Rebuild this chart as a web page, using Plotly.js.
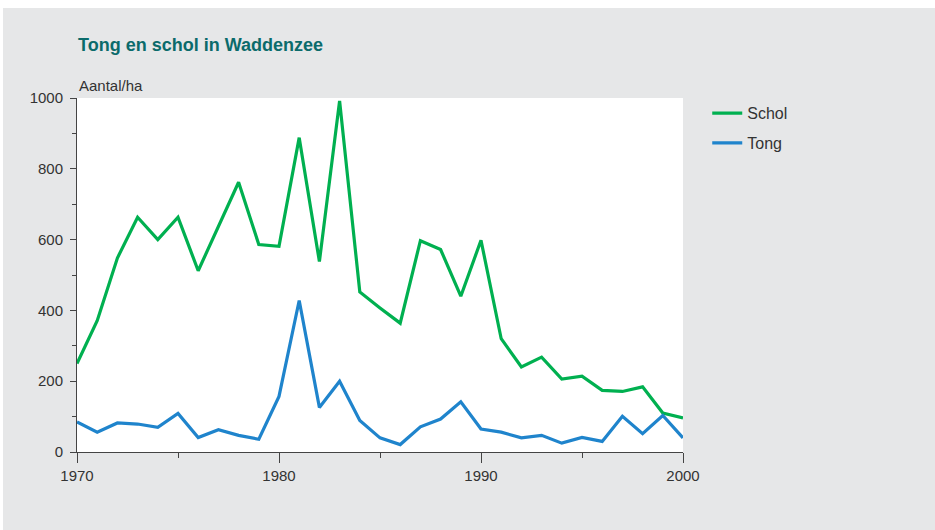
<!DOCTYPE html>
<html>
<head>
<meta charset="utf-8">
<script src="https://cdn.plot.ly/plotly-3.0.1.min.js"></script>
<style>
  html, body { margin: 0; padding: 0; background: #ffffff; }
  #chart { position: absolute; left: 3px; top: 8px; width: 932px; height: 522px; }
</style>
</head>
<body>
<div id="chart"></div>
<script>
const years = [1970,1971,1972,1973,1974,1975,1976,1977,1978,1979,1980,1981,1982,1983,1984,1985,1986,1987,1988,1989,1990,1991,1992,1993,1994,1995,1996,1997,1998,1999,2000];
const schol = [250,371,548,663,600,663,512,635,762,586,581,888,538,992,452,407,364,597,572,440,598,320,240,268,206,214,174,171,184,110,96];
const tong  = [85,56,82,79,70,109,41,63,47,36,157,428,126,200,89,40,21,71,93,142,65,56,40,47,25,41,30,101,52,103,40];
const seriesNames = ["Schol", "Tong"];
const yTickVals = [0,200,400,600,800,1000];
const xTickVals = [1970,1980,1990,2000];

const font = "Liberation Sans, Arial, sans-serif";
const traces = [
  { x: years, y: schol, name: seriesNames[0], type: "scatter", mode: "lines",
    line: { color: "#00b050", width: 3.2 }, legendgroup: "a" },
  { x: years, y: tong, name: seriesNames[1], type: "scatter", mode: "lines",
    line: { color: "#1f84cc", width: 3.2 }, legendgroup: "b" }
];

const layout = {
  width: 932, height: 522,
  paper_bgcolor: "#e6e7e8",
  plot_bgcolor: "#ffffff",
  margin: { l: 74, r: 252, t: 90, b: 78 },
  font: { family: font, size: 15, color: "#333333" },
  title: {
    text: "<b>Tong en schol in Waddenzee</b>",
    font: { family: font, size: 18, color: "#0b6b6b" },
    x: 75/932, xref: "container", xanchor: "left",
    y: 1 - 37/522, yref: "container", yanchor: "middle"
  },
  xaxis: {
    range: [1970, 2000], tickvals: xTickVals, ticktext: xTickVals.map(String),
    ticks: "outside", ticklen: 10, tickcolor: "#444", tickwidth: 1,
    showline: true, linecolor: "#444", linewidth: 1, showgrid: false, zeroline: false,
    tickfont: { family: font, size: 15, color: "#333333" },
    minor: { dtick: 5, tick0: 1970, ticks: "outside", ticklen: 5, tickcolor: "#444", showgrid: false },
    fixedrange: true
  },
  yaxis: {
    range: [0, 1000], tickvals: yTickVals, ticktext: yTickVals.map(String),
    ticks: "outside", ticklen: 6, tickcolor: "#444", tickwidth: 1,
    ticklabelstandoff: 4,
    showline: true, linecolor: "#444", linewidth: 1, showgrid: false, zeroline: false,
    tickfont: { family: font, size: 15, color: "#333333" },
    minor: { dtick: 100, tick0: 0, ticks: "outside", ticklen: 4, tickcolor: "#444", showgrid: false },
    fixedrange: true
  },
  showlegend: true,
  legend: {
    x: 1.04, xanchor: "left", y: 1.005, yanchor: "top",
    bgcolor: "rgba(0,0,0,0)", font: { family: font, size: 16, color: "#333333" },
    traceorder: "grouped", tracegroupgap: 6
  },
  annotations: [
    { text: "Aantal/ha", xref: "paper", yref: "paper", x: 0, y: 1, xanchor: "left", yanchor: "bottom",
      yshift: 2, showarrow: false, font: { family: font, size: 15, color: "#333333" } }
  ]
};

Plotly.newPlot("chart", traces, layout, { displayModeBar: false, staticPlot: true });
</script>
</body>
</html>
